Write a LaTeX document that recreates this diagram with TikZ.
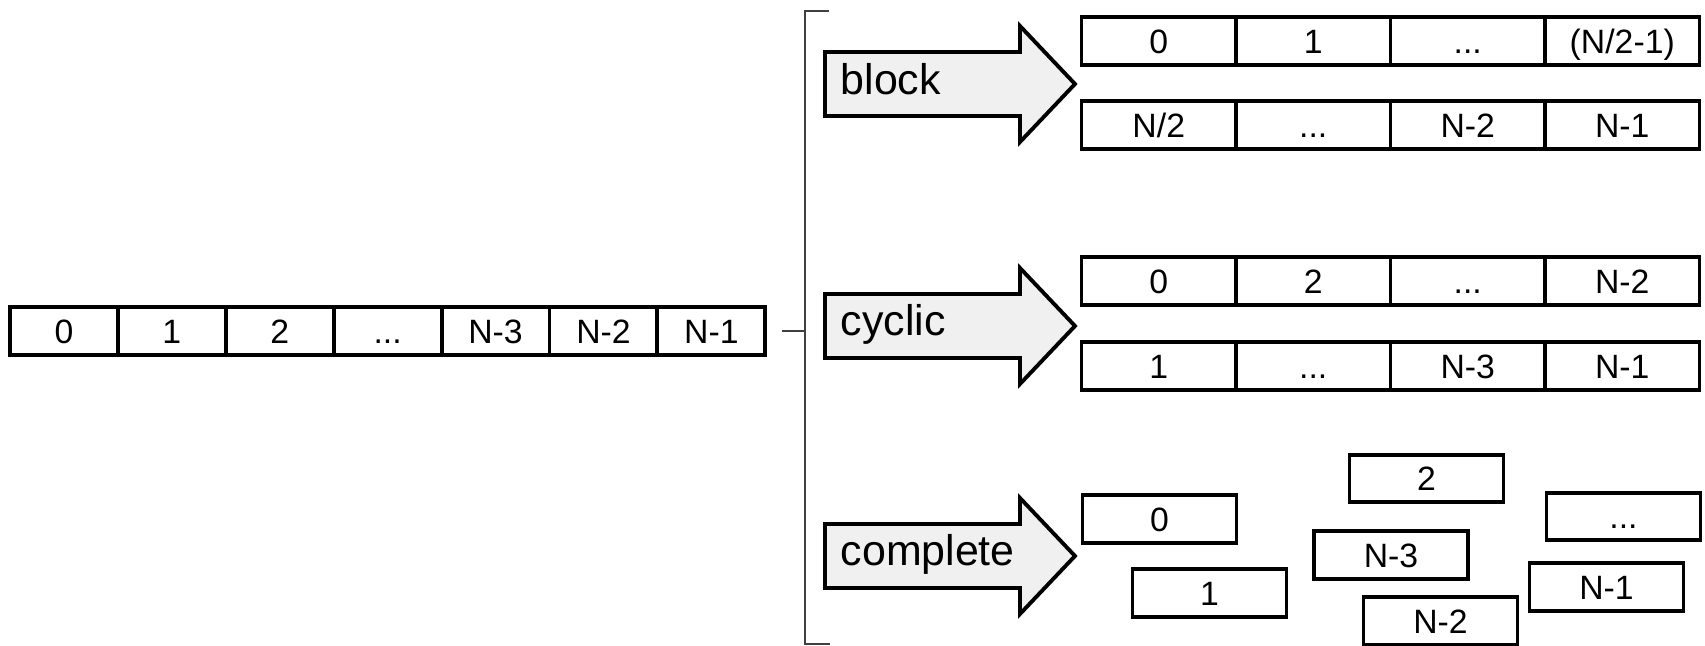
\documentclass[tikz,border=0pt]{standalone}
\usepackage{fontspec}
\setmainfont{Liberation Sans}
\usetikzlibrary{positioning}
\newcommand{\skipdots}{...}
\tikzset{
	cell/.style={draw, line width=1.1pt, inner sep=0pt, minimum height=0.475cm, text height=6.9pt, text depth=0pt, font=\fontsize{9.6}{11}\selectfont},
	fatarrow/.style={draw, line width=1.1pt, fill=black!6, line join=miter},
	kind/.style={anchor=base west, inner sep=0pt, font=\fontsize{12.2}{14}\selectfont},
	brk/.style={draw=black!75, line width=0.7pt}
}
\begin{document}
\begin{tikzpicture}[x=0.01cm, y=-0.01cm]
	\useasboundingbox (0,0) rectangle (1705,646);
	\foreach \t [count=\i] in {0,1,2,\skipdots,N-3,N-2,N-1}
	{
		\node[cell, minimum width=1.079cm, minimum height=0.48cm] (a\i) at (\i*107.9-43.95,331) {\t};
	}
	\coordinate (brtop) at (805,11);
	\coordinate (brbot) at (805,644);
	\draw[brk] (829,11) -- (brtop) -- (brbot) -- (830,644);
	\draw[brk] ([xshift=0.15cm]a7.east) -- (a7.east -| brtop);
	\foreach \y/\d/\t in {84/11/block,326/10/cyclic,556/10/complete}
	{
		\draw[fatarrow] (825,\y-32) -- (1020,\y-32) -- (1020,\y-58) -- (1075,\y) -- (1020,\y+58) -- (1020,\y+32) -- (825,\y+32) -- cycle;
		\node[kind] (\t) at (840,\y+\d) {\t};
	}
	\foreach \t [count=\i] in {0,1,\skipdots,(N/2-1)}
		\node[cell, minimum width=1.545cm] (b\i) at (\i*154.5+1004.25,41) {\t};
	\foreach \t [count=\i] in {N/2,\skipdots,N-2,N-1}
		\node[cell, minimum width=1.545cm] (bb\i) at (\i*154.5+1004.25,125) {\t};
	\foreach \t [count=\i] in {0,2,\skipdots,N-2}
		\node[cell, minimum width=1.545cm] (c\i) at (\i*154.5+1004.25,281) {\t};
	\foreach \t [count=\i] in {1,\skipdots,N-3,N-1}
		\node[cell, minimum width=1.545cm] (cc\i) at (\i*154.5+1004.25,366) {\t};
	\node[cell, minimum width=1.54cm] (p0) at (1159.5,519) {0};
	\node[cell, minimum width=1.54cm] (p1) at (1209.5,593) {1};
	\node[cell, minimum width=1.54cm] (p2) at (1426.5,478.5) {2};
	\node[cell, minimum width=1.54cm] (pn3) at (1391,555) {N-3};
	\node[cell, minimum width=1.54cm] (pn2) at (1440.5,621) {N-2};
	\node[cell, minimum width=1.54cm] (pd) at (1623.5,516.5) {\skipdots};
	\node[cell, minimum width=1.54cm] (pn1) at (1606.5,587) {N-1};
\end{tikzpicture}
\end{document}
